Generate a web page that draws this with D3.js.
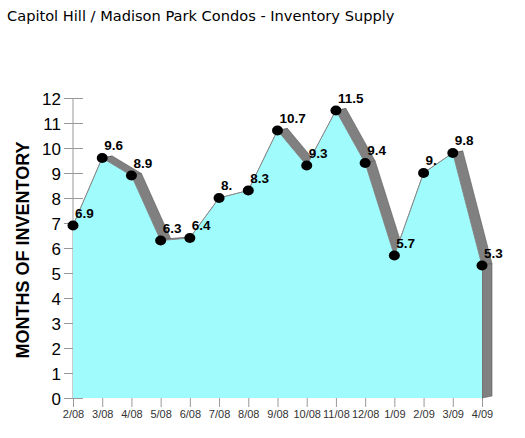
<!DOCTYPE html>
<html lang="en">
<head>
  <meta charset="UTF-8">
  <title>Inventory Supply</title>
  <style>
    body { margin: 0; background: #fff; }
  </style>
</head>
<body>
<svg></svg>
<script src="https://cdn.jsdelivr.net/npm/d3@7/dist/d3.min.js"></script>
<script>
const months = ['2/08', '3/08', '4/08', '5/08', '6/08', '7/08', '8/08', '9/08',
  '10/08', '11/08', '12/08', '1/09', '2/09', '3/09', '4/09'];
const inventory = [6.9, 9.6, 8.9, 6.3, 6.4, 8.0, 8.3, 10.7, 9.3, 11.5, 9.4, 5.7, 9.0, 9.8, 5.3];
const yTicks = [0, 1, 2, 3, 4, 5, 6, 7, 8, 9, 10, 11, 12];

const width = 525;
const height = 438;
// depth of the 3d ribbon
const dx = 10, dy = -2;

const svg = d3.select('svg')
  .attr('width', width)
  .attr('height', height);

const data = months.map((m, i) => ({ m: m, v: inventory[i] }));

const x = d3.scalePoint().domain(months).range([73, 482]);
const y = d3.scaleLinear().domain([0, 12]).range([398, 98]);

// title
svg.append('text')
  .attr('x', 7)
  .attr('y', 21)
  .attr('font-family', 'DejaVu Sans, Verdana, sans-serif')
  .attr('font-size', 14.6)
  .attr('fill', '#000')
  .text('Capitol Hill / Madison Park Condos - Inventory Supply');

// y axis
const yAxis = svg.append('g')
  .attr('transform', 'translate(73,0)')
  .call(d3.axisLeft(y).tickValues(yTicks).tickSize(10).tickPadding(2).tickFormat(d3.format('d')));
yAxis.select('.domain').attr('stroke', '#999').attr('d', `M0,${y(12)}V${y(0)}`);
yAxis.selectAll('.tick line').attr('stroke', '#999').attr('x1', 10).attr('x2', -9);
yAxis.selectAll('.tick text')
  .attr('font-family', 'Liberation Sans, Arial, sans-serif')
  .attr('font-size', 17)
  .attr('fill', '#000')
  .attr('dy', '0.36em');

// x axis
const xAxis = svg.append('g')
  .attr('transform', `translate(0,${y(0)})`)
  .call(d3.axisBottom(x).tickSize(9).tickPadding(3));
xAxis.select('.domain').remove();
xAxis.selectAll('.tick line').attr('stroke', '#999');
xAxis.selectAll('.tick text')
  .attr('font-family', 'Liberation Sans, Arial, sans-serif')
  .attr('font-size', 11)
  .attr('fill', '#333');

// y axis title
svg.append('text')
  .attr('transform', `translate(29,${y(6) + 2}) rotate(-90)`)
  .attr('text-anchor', 'middle')
  .attr('font-family', 'Liberation Sans, Arial, sans-serif')
  .attr('font-weight', 'bold')
  .attr('font-size', 18)
  .attr('fill', '#000')
  .text('MONTHS OF INVENTORY');

// top surface of the ribbon, front face covers the hidden parts
const segs = d3.pairs(data);
svg.append('g')
  .selectAll('path')
  .data(segs)
  .enter()
  .append('path')
  .attr('d', d => {
    const x1 = x(d[0].m), y1 = y(d[0].v), x2 = x(d[1].m), y2 = y(d[1].v);
    return `M${x1},${y1}L${x2},${y2}L${x2 + dx},${y2 + dy}L${x1 + dx},${y1 + dy}Z`;
  })
  .attr('fill', '#808080')
  .attr('stroke', '#5a5a5a')
  .attr('stroke-width', 0.6);

// right side wall
const last = data[data.length - 1];
svg.append('path')
  .attr('d', `M${x(last.m)},${y(last.v)}L${x(last.m) + dx},${y(last.v) + dy}L${x(last.m) + dx},${y(0) + dy}L${x(last.m)},${y(0)}Z`)
  .attr('fill', '#808080')
  .attr('stroke', '#5a5a5a')
  .attr('stroke-width', 0.6);

// front face
const area = d3.area()
  .x(d => x(d.m))
  .y0(y(0))
  .y1(d => y(d.v));
svg.append('path')
  .datum(data)
  .attr('d', area)
  .attr('fill', '#a0fcfc');

const line = d3.line()
  .x(d => x(d.m))
  .y(d => y(d.v));
svg.append('path')
  .datum(data)
  .attr('d', line)
  .attr('fill', 'none')
  .attr('stroke', '#888')
  .attr('stroke-width', 1);

// dots
svg.append('g')
  .selectAll('ellipse')
  .data(data)
  .enter()
  .append('ellipse')
  .attr('cx', d => x(d.m))
  .attr('cy', d => y(d.v))
  .attr('rx', 5.5)
  .attr('ry', 5)
  .attr('fill', '#000');

// value labels
const fmt = v => Number.isInteger(v) ? v + '.' : String(v);
svg.append('g')
  .selectAll('text')
  .data(data)
  .enter()
  .append('text')
  .attr('x', d => x(d.m) + 2)
  .attr('y', d => y(d.v) - 8)
  .attr('font-family', 'Liberation Sans, Arial, sans-serif')
  .attr('font-weight', 'bold')
  .attr('font-size', 13.5)
  .attr('fill', '#000')
  .text(d => fmt(d.v));
</script>
</body>
</html>
